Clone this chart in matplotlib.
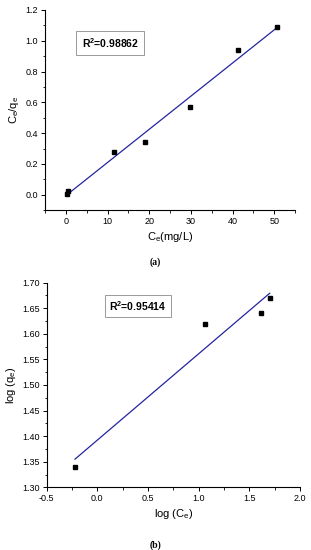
import numpy as np
import matplotlib
matplotlib.use("Agg")
import matplotlib.pyplot as plt
from matplotlib.ticker import MultipleLocator

# (a) Langmuir
ce_a = [0.2, 0.5, 11.6, 18.9, 29.7, 41.2, 50.7]
ceqe_a = [0.005, 0.025, 0.28, 0.34, 0.57, 0.94, 1.09]
r2_a = "0.98862"

# (b) Freundlich
logce_b = [-0.22, 1.06, 1.61, 1.70]
logqe_b = [1.34, 1.62, 1.64, 1.67]
r2_b = "0.95414"

line_col = "#2424a0"
plt.rcParams['font.family'] = ['Liberation Sans', 'DejaVu Sans']
plt.rcParams['mathtext.fontset'] = 'custom'
plt.rcParams['mathtext.rm'] = 'Liberation Sans'
plt.rcParams['mathtext.bf'] = 'Liberation Sans:bold'

fig = plt.figure(figsize=(3.11, 5.5), dpi=100)

def style(ax):
    for s in ['top', 'right']:
        ax.spines[s].set_visible(False)
    for s in ['left', 'bottom']:
        ax.spines[s].set_linewidth(0.8)
    ax.tick_params(which='major', direction='out', length=3, width=0.7, labelsize=6.5, pad=2)
    ax.tick_params(which='minor', direction='out', length=1.8, width=0.6)

# top panel
ax1 = fig.add_axes([0.145, 0.618, 0.804, 0.364])
x = np.array(ce_a)
k, b = np.polyfit(x, ceqe_a, 1)
ax1.plot([x.min(), x.max()], [k * x.min() + b, k * x.max() + b], color=line_col, lw=0.9)
ax1.plot(ce_a, ceqe_a, 's', color='black', ms=3.5)
ax1.set_xlim(-5, 55)
ax1.set_ylim(-0.1, 1.2)
ax1.xaxis.set_major_locator(MultipleLocator(10))
ax1.xaxis.set_minor_locator(MultipleLocator(5))
ax1.yaxis.set_major_locator(MultipleLocator(0.2))
ax1.yaxis.set_minor_locator(MultipleLocator(0.1))
ax1.set_xticks([0, 10, 20, 30, 40, 50])
ax1.set_yticks([0.0, 0.2, 0.4, 0.6, 0.8, 1.0, 1.2])
ax1.yaxis.set_major_formatter(plt.FormatStrFormatter('%.1f'))
style(ax1)
ax1.set_xlabel(r"C$_\mathrm{e}$(mg/L)", fontsize=8, labelpad=3)
ax1.set_ylabel(r"C$_\mathrm{e}$/q$_\mathrm{e}$", fontsize=8, labelpad=3)
ax1.text(0.26, 0.835, r"$\mathbf{R^2}$=" + r2_a, transform=ax1.transAxes, fontsize=7.5,
         fontweight='bold', ha='center', va='center',
         bbox=dict(boxstyle='square,pad=0.5', fc='white', ec='#999999', lw=0.7))
fig.text(0.5, 1 - 262 / 550, "(a)", fontsize=7, family='Liberation Serif', fontweight='bold',
         ha='center', va='center')

# bottom panel
ax2 = fig.add_axes([0.150, 0.114, 0.815, 0.372])
x = np.array(logce_b)
k, b = np.polyfit(x, logqe_b, 1)
ax2.plot([x.min(), x.max()], [k * x.min() + b, k * x.max() + b], color=line_col, lw=0.9)
ax2.plot(logce_b, logqe_b, 's', color='black', ms=3.5)
ax2.set_xlim(-0.5, 2.0)
ax2.set_ylim(1.30, 1.70)
ax2.xaxis.set_major_locator(MultipleLocator(0.5))
ax2.xaxis.set_minor_locator(MultipleLocator(0.25))
ax2.yaxis.set_major_locator(MultipleLocator(0.05))
ax2.yaxis.set_minor_locator(MultipleLocator(0.025))
ax2.xaxis.set_major_formatter(plt.FormatStrFormatter('%.1f'))
ax2.yaxis.set_major_formatter(plt.FormatStrFormatter('%.2f'))
style(ax2)
ax2.set_xlabel(r"log (C$_\mathrm{e}$)", fontsize=8, labelpad=3)
ax2.set_ylabel(r"log (q$_\mathrm{e}$)", fontsize=8, labelpad=3)
ax2.text(0.36, 0.885, r"$\mathbf{R^2}$=" + r2_b, transform=ax2.transAxes, fontsize=7.5,
         fontweight='bold', ha='center', va='center',
         bbox=dict(boxstyle='square,pad=0.4', fc='white', ec='#999999', lw=0.7))
fig.text(0.5, 1 - 545 / 550, "(b)", fontsize=7, family='Liberation Serif', fontweight='bold',
         ha='center', va='center')

fig.savefig("out.png", dpi=100)
